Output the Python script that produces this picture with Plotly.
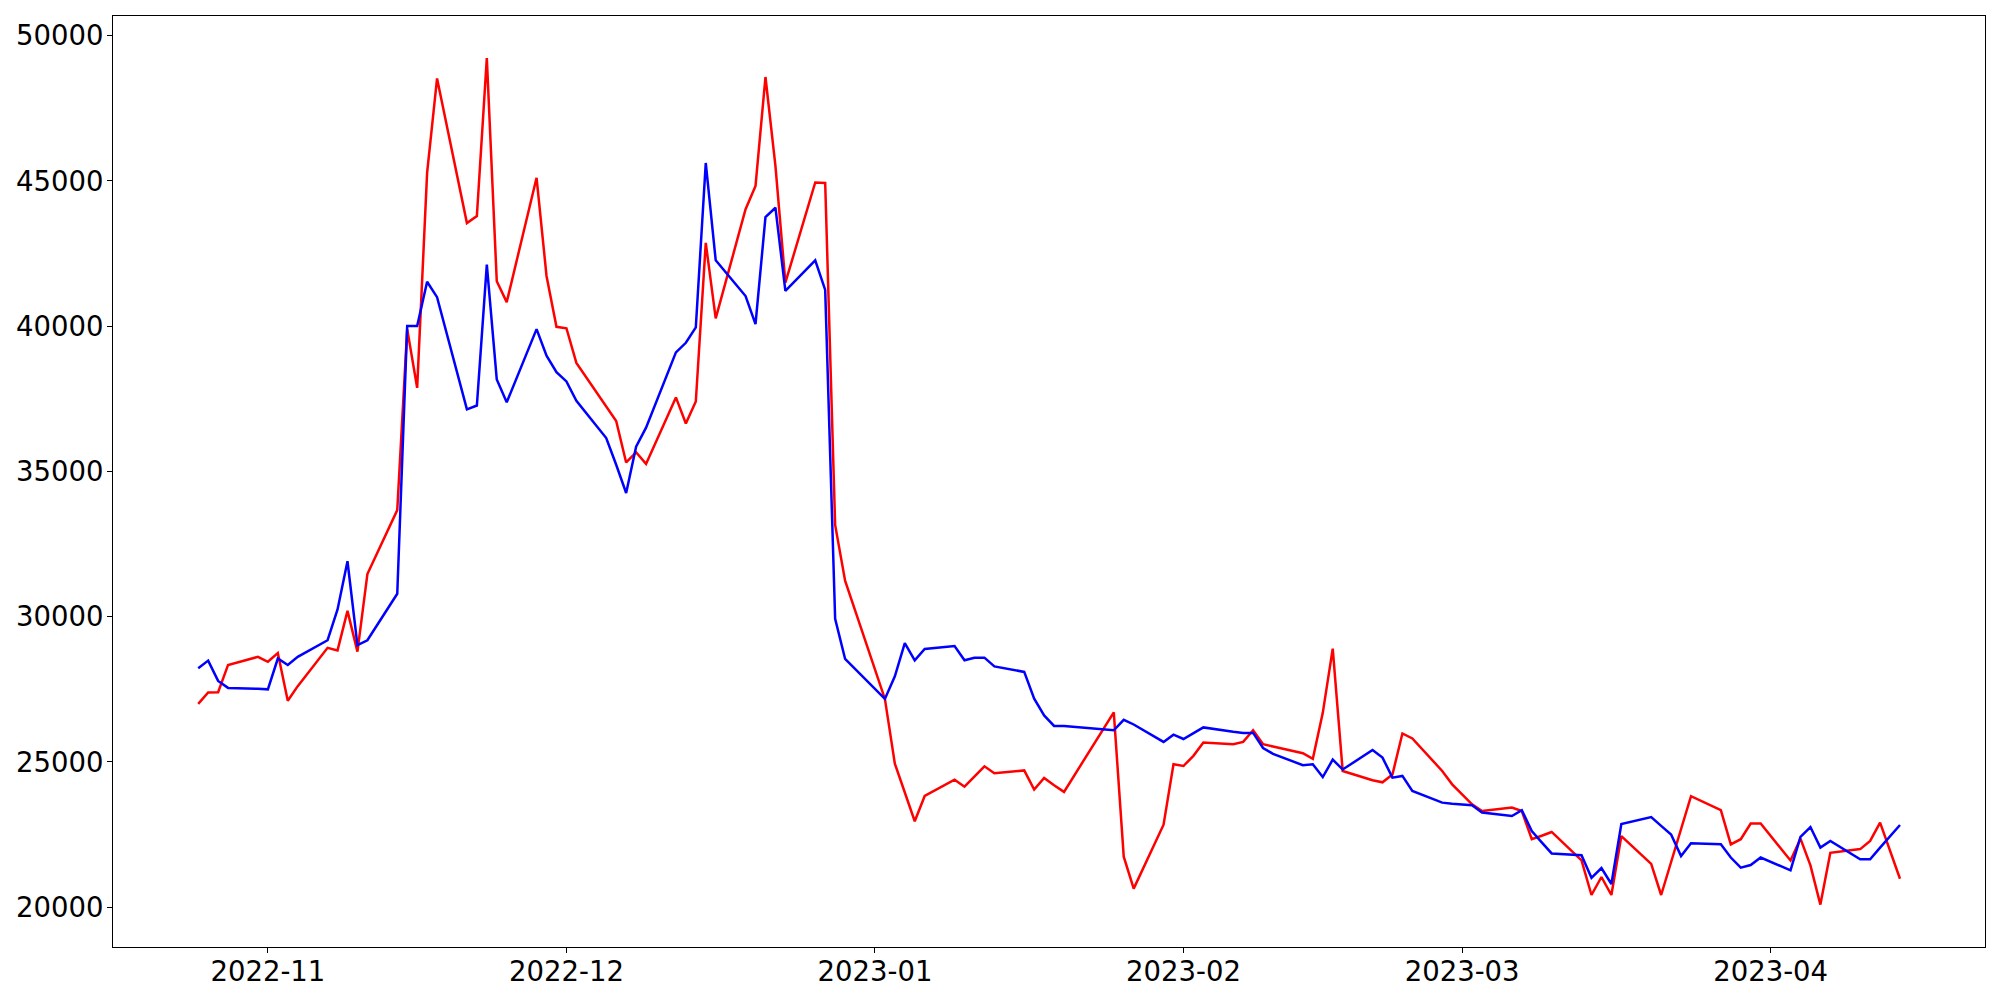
import plotly.graph_objects as go

dates = [
    "2022-10-25", "2022-10-26", "2022-10-27", "2022-10-28", "2022-10-31",
    "2022-11-01", "2022-11-02", "2022-11-03", "2022-11-04",
    "2022-11-07", "2022-11-08", "2022-11-09", "2022-11-10", "2022-11-11",
    "2022-11-14", "2022-11-15", "2022-11-16", "2022-11-17", "2022-11-18",
    "2022-11-21", "2022-11-22", "2022-11-23", "2022-11-24", "2022-11-25",
    "2022-11-28", "2022-11-29", "2022-11-30", "2022-12-01", "2022-12-02",
    "2022-12-05", "2022-12-06", "2022-12-07", "2022-12-08", "2022-12-09",
    "2022-12-12", "2022-12-13", "2022-12-14", "2022-12-15", "2022-12-16",
    "2022-12-19", "2022-12-20", "2022-12-21", "2022-12-22", "2022-12-23",
    "2022-12-26", "2022-12-27", "2022-12-28", "2022-12-29",
    "2023-01-02", "2023-01-03", "2023-01-04", "2023-01-05", "2023-01-06",
    "2023-01-09", "2023-01-10", "2023-01-11", "2023-01-12", "2023-01-13",
    "2023-01-16", "2023-01-17", "2023-01-18", "2023-01-19", "2023-01-20",
    "2023-01-25", "2023-01-26", "2023-01-27",
    "2023-01-30", "2023-01-31", "2023-02-01", "2023-02-02", "2023-02-03",
    "2023-02-06", "2023-02-07", "2023-02-08", "2023-02-09", "2023-02-10",
    "2023-02-13", "2023-02-14", "2023-02-15", "2023-02-16", "2023-02-17",
    "2023-02-20", "2023-02-21", "2023-02-22", "2023-02-23", "2023-02-24",
    "2023-02-27", "2023-02-28", "2023-03-02", "2023-03-03",
    "2023-03-06", "2023-03-07", "2023-03-08", "2023-03-09", "2023-03-10",
    "2023-03-13", "2023-03-14", "2023-03-15", "2023-03-16", "2023-03-17",
    "2023-03-20", "2023-03-21", "2023-03-22", "2023-03-23", "2023-03-24",
    "2023-03-27", "2023-03-28", "2023-03-29", "2023-03-30", "2023-03-31",
    "2023-04-03", "2023-04-04", "2023-04-05", "2023-04-06", "2023-04-07",
    "2023-04-10", "2023-04-11", "2023-04-12", "2023-04-13", "2023-04-14",
]

red_values = [
    27000, 27390, 27400, 28340, 28620,
    28450, 28750, 27110, 27610,
    28930, 28840, 30200, 28800, 31470,
    33670, 39900, 37880, 45280, 48530,
    43550, 43790, 49230, 41550, 40830,
    45110, 41730, 39980, 39930, 38740,
    37240, 36740, 35310, 35660, 35260,
    37550, 36650, 37410, 42870, 40270,
    44030, 44830, 48580, 45520, 41500,
    44950, 44930, 33160, 31240,
    27170, 24940, 23950, 22960, 23830,
    24390, 24150, 24500, 24850, 24610,
    24710, 24050, 24450, 24200, 23970,
    26710, 21740, 20640,
    22840, 24920, 24860, 25210, 25670,
    25610, 25690, 26090, 25610, 25530,
    25300, 25110, 26690, 28900, 24690,
    24370, 24300, 24570, 25980, 25810,
    24690, 24230, 23540, 23310,
    23430, 23310, 22340, 22460, 22590,
    21610, 20420, 21040, 20420, 22450,
    21490, 20420, 21550, 22680, 23820,
    23340, 22160, 22340, 22880, 22880,
    21610, 22360, 21440, 20090, 21870,
    22000, 22280, 22910, 21950, 20980,
]

blue_values = [
    28230, 28490, 27790, 27550, 27520,
    27500, 28560, 28340, 28620,
    29190, 30250, 31910, 29020, 29190,
    30790, 40010, 40010, 41530, 41000,
    37140, 37270, 42120, 38170, 37380,
    39900, 38990, 38420, 38100, 37430,
    36150, 35230, 34260, 35850, 36510,
    39100, 39430, 39960, 45620, 42270,
    41040, 40070, 43760, 44080, 41220,
    42270, 41250, 29930, 28550,
    27170, 27950, 29090, 28500, 28890,
    28990, 28500, 28590, 28590, 28290,
    28100, 27180, 26600, 26240, 26240,
    26090, 26450, 26290,
    25690, 25940, 25790, 25990, 26190,
    26040, 26000, 26000, 25480, 25280,
    24890, 24920, 24480, 25080, 24740,
    25410, 25150, 24460, 24520, 24000,
    23600, 23560, 23510, 23260,
    23140, 23340, 22620, 22230, 21850,
    21790, 21010, 21350, 20800, 22860,
    23100, 22800, 22500, 21760, 22200,
    22170, 21710, 21360, 21450, 21710,
    21270, 22420, 22760, 22050, 22280,
    21650, 21650, 22050, 22440, 22830,
]

x_tick_vals = ["2022-11-01", "2022-12-01", "2023-01-01", "2023-02-01", "2023-03-01", "2023-04-01"]
x_tick_text = ["2022-11", "2022-12", "2023-01", "2023-02", "2023-03", "2023-04"]
y_tick_vals = [20000, 25000, 30000, 35000, 40000, 45000, 50000]
y_tick_text = ["20000", "25000", "30000", "35000", "40000", "45000", "50000"]

fig = go.Figure()
fig.add_trace(go.Scatter(x=dates, y=red_values, mode="lines",
                         line=dict(color="#ff0000", width=2.5), name="red"))
fig.add_trace(go.Scatter(x=dates, y=blue_values, mode="lines",
                         line=dict(color="#0000ff", width=2.5), name="blue"))

axis_font = dict(family="DejaVu Sans", size=27.5, color="black")

# The page body adds an 8 px offset, so the figure is a little smaller.
fig.update_layout(
    width=1992, height=992,
    margin=dict(l=105, r=15, t=8, b=53, pad=0, autoexpand=False),
    paper_bgcolor="white", plot_bgcolor="white",
    showlegend=False,
    xaxis=dict(
        type="date", automargin=False,
        range=["2022-10-16 10:30", "2023-04-22 13:00"],
        tickmode="array", tickvals=x_tick_vals, ticktext=x_tick_text,
        ticks="outside", ticklen=5, tickwidth=1.1, tickcolor="black",
        ticklabelstandoff=-5,
        showline=True, linecolor="black", linewidth=1.1, mirror=True,
        showgrid=False, zeroline=False, tickfont=axis_font,
    ),
    yaxis=dict(
        automargin=False,
        range=[18630, 50680],
        tickmode="array", tickvals=y_tick_vals, ticktext=y_tick_text,
        ticks="outside", ticklen=5, tickwidth=1.1, tickcolor="black",
        ticklabelstandoff=-2,
        showline=True, linecolor="black", linewidth=1.1, mirror=True,
        showgrid=False, zeroline=False, tickfont=axis_font,
    ),
)

fig.write_html("out.html")
